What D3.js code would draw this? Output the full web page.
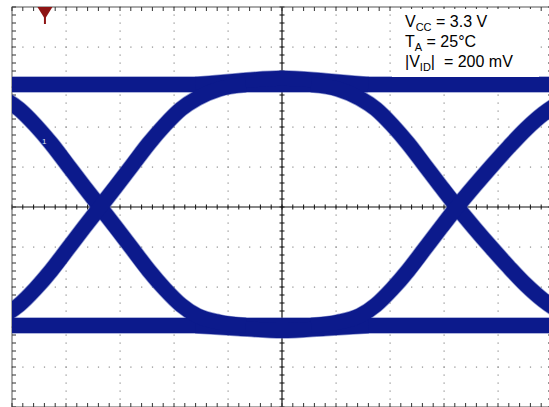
<html>
<head>
<meta charset="utf-8">
<script src="https://cdn.jsdelivr.net/npm/d3@7"></script>
<style>
    body { margin: 0; background: #fff; }
    .note { font: 16px "Liberation Sans", Arial, sans-serif; fill: #000; }
</style>
</head>
<body>
<script>
    var width = 549;
    var height = 407;

    // scope screen: 10 x 10 divisions, time and voltage read in divisions
    var timeDivs = [0, 10];
    var voltDivs = [-5, 5];
    var minorPerDiv = 5;

    // levels and traces (t in div, v in div)
    var highLine = [[-0.5, 3.06], [10.5, 3.06]];
    var lowLine = [[-0.5, -2.96], [10.5, -2.96]];
    var highBump = [[3.4, 3.06], [4.2, 3.15], [5.0, 3.22], [5.8, 3.15], [6.6, 3.06]];
    var lowBump = [[3.4, -2.96], [4.2, -3.03], [5.0, -3.09], [5.8, -3.03], [6.6, -2.96]];

    var fallLeft = [[-1.07, 3.06], [-0.57, 2.95], [-0.17, 2.72], [0.13, 2.45], [0.43, 2.05], [0.73, 1.58], [1.03, 1.05], [1.33, 0.52],
        [1.63, 0], [1.93, -0.52], [2.23, -1.05], [2.53, -1.58], [2.83, -2.05], [3.13, -2.45], [3.43, -2.72], [3.83, -2.88], [4.33, -2.96]];
    var riseLeft = [[-1.07, -2.96], [-0.57, -2.88], [-0.17, -2.72], [0.13, -2.45], [0.43, -2.05], [0.73, -1.58], [1.03, -1.05], [1.33, -0.52],
        [1.63, 0], [1.93, 0.52], [2.23, 1.05], [2.53, 1.58], [2.83, 2.05], [3.13, 2.45], [3.43, 2.72], [3.83, 2.95], [4.33, 3.06]];
    var fallRight = [[5.54, 3.06], [6.04, 2.95], [6.44, 2.72], [6.74, 2.45], [7.04, 2.05], [7.34, 1.58], [7.64, 1.05], [7.94, 0.52],
        [8.24, 0], [8.56, -0.52], [8.88, -1.02], [9.2, -1.5], [9.52, -1.95], [9.84, -2.33], [10.16, -2.62], [10.6, -2.85], [11.1, -2.96]];
    var riseRight = [[5.54, -2.96], [6.04, -2.88], [6.44, -2.72], [6.74, -2.45], [7.04, -2.05], [7.34, -1.58], [7.64, -1.05], [7.94, -0.52],
        [8.24, 0], [8.56, 0.52], [8.88, 1.02], [9.2, 1.5], [9.52, 1.95], [9.84, 2.33], [10.16, 2.62], [10.6, 2.9], [11.1, 3.06]];

    var traces = [highLine, lowLine, highBump, lowBump, fallLeft, riseLeft, fallRight, riseRight];
    var triggerT = 0.61;
    var notes = [
        [{ t: "V" }, { t: "CC", sub: true }, { t: " = 3.3 V" }],
        [{ t: "T" }, { t: "A", sub: true }, { t: " = 25°C" }],
        [{ t: "|V" }, { t: "ID", sub: true }, { t: "|  = 200 mV" }]
    ];

    var x = d3.scaleLinear().domain(timeDivs).range([12, 552]);
    var y = d3.scaleLinear().domain(voltDivs).range([407, 7]);

    var svg = d3.select("body").append("svg")
        .attr("width", width)
        .attr("height", height);

    svg.append("clipPath").attr("id", "screen")
        .append("rect")
        .attr("x", x(0)).attr("y", y(5))
        .attr("width", x(10) - x(0)).attr("height", y(-5) - y(5));

    var grid = svg.append("g");
    var majorT = d3.range(timeDivs[0], timeDivs[1] + 1);
    var majorV = d3.range(voltDivs[0], voltDivs[1] + 1);
    var minorT = d3.range(timeDivs[0] * minorPerDiv, timeDivs[1] * minorPerDiv + 1).map(function (d) { return d / minorPerDiv; });
    var minorV = d3.range(voltDivs[0] * minorPerDiv, voltDivs[1] * minorPerDiv + 1).map(function (d) { return d / minorPerDiv; });

    // dotted graticule
    majorT.filter(function (d) { return d > 0 && d < 10 && d != 5; }).forEach(function (t) {
        grid.selectAll(null).data(minorV).enter().append("rect")
            .attr("x", x(t) - 0.5).attr("y", function (v) { return y(v) - 0.5; })
            .attr("width", 1.2).attr("height", 1.2).attr("fill", "#8c8c8c");
    });
    majorV.filter(function (d) { return d > -5 && d < 5 && d != 0; }).forEach(function (v) {
        grid.selectAll(null).data(minorT).enter().append("rect")
            .attr("x", function (t) { return x(t) - 0.5; }).attr("y", y(v) - 0.5)
            .attr("width", 1.2).attr("height", 1.2).attr("fill", "#8c8c8c");
    });

    // centre axes with ticks
    grid.append("line").attr("x1", x(0)).attr("x2", x(10)).attr("y1", y(0)).attr("y2", y(0))
        .attr("stroke", "#111").attr("stroke-width", 1.2);
    grid.append("line").attr("x1", x(5)).attr("x2", x(5)).attr("y1", y(5)).attr("y2", y(-5))
        .attr("stroke", "#111").attr("stroke-width", 1.2);
    grid.selectAll(null).data(minorT).enter().append("line")
        .attr("x1", function (t) { return x(t); }).attr("x2", function (t) { return x(t); })
        .attr("y1", y(0) - 2.5).attr("y2", y(0) + 2.5).attr("stroke", "#111");
    grid.selectAll(null).data(minorV).enter().append("line")
        .attr("y1", function (v) { return y(v); }).attr("y2", function (v) { return y(v); })
        .attr("x1", x(5) - 2.5).attr("x2", x(5) + 2.5).attr("stroke", "#111");

    // frame and edge ticks
    grid.append("rect")
        .attr("x", x(0)).attr("y", y(5))
        .attr("width", x(10) - x(0)).attr("height", y(-5) - y(5))
        .attr("fill", "none").attr("stroke", "#555");
    grid.selectAll(null).data(minorV).enter().append("line")
        .attr("y1", function (v) { return y(v); }).attr("y2", function (v) { return y(v); })
        .attr("x1", x(0)).attr("x2", x(0) + 4).attr("stroke", "#333");
    grid.selectAll(null).data(minorV).enter().append("line")
        .attr("y1", function (v) { return y(v); }).attr("y2", function (v) { return y(v); })
        .attr("x1", x(10) - 4).attr("x2", x(10)).attr("stroke", "#333");
    grid.selectAll(null).data(minorT).enter().append("line")
        .attr("x1", function (t) { return x(t); }).attr("x2", function (t) { return x(t); })
        .attr("y1", y(5)).attr("y2", y(5) + 4).attr("stroke", "#333");
    grid.selectAll(null).data(minorT).enter().append("line")
        .attr("x1", function (t) { return x(t); }).attr("x2", function (t) { return x(t); })
        .attr("y1", y(-5) - 4).attr("y2", y(-5)).attr("stroke", "#333");

    // eye traces
    var line = d3.line()
        .x(function (d) { return x(d[0]); })
        .y(function (d) { return y(d[1]); })
        .curve(d3.curveMonotoneX);

    var eye = svg.append("g").attr("clip-path", "url(#screen)");
    eye.selectAll(".halo").data(traces).enter().append("path")
        .attr("d", line)
        .attr("fill", "none")
        .attr("stroke", "#4a58b0")
        .attr("stroke-opacity", 0.6)
        .attr("stroke-width", 16.5);
    eye.selectAll(".trace").data(traces).enter().append("path")
        .attr("d", line)
        .attr("fill", "none")
        .attr("stroke", "#0c1a8c")
        .attr("stroke-width", 15);

    // channel marker hidden in the trace
    svg.append("text")
        .attr("x", 42).attr("y", 144)
        .attr("font-family", "Liberation Sans, Arial, sans-serif")
        .attr("font-size", 8).attr("fill", "#dfe3f2")
        .text("1");

    // trigger marker
    var tx = x(triggerT);
    svg.append("path")
        .attr("d", "M" + (tx - 7.5) + "," + y(5) + "L" + (tx + 7.5) + "," + y(5) + "L" + tx + "," + (y(5) + 12) + "Z")
        .attr("fill", "#8e1414");
    svg.append("line")
        .attr("x1", tx).attr("x2", tx).attr("y1", y(5) + 8).attr("y2", y(5) + 17)
        .attr("stroke", "#8e1414").attr("stroke-width", 2);

    // conditions box
    svg.append("rect")
        .attr("x", 392).attr("y", 9)
        .attr("width", 147).attr("height", 68)
        .attr("fill", "#fff");

    var txt = svg.append("g");
    notes.forEach(function (parts, i) {
        var t = txt.append("text").attr("class", "note")
            .attr("x", 405).attr("y", 27 + i * 20)
            .attr("xml:space", "preserve");
        parts.forEach(function (p) {
            t.append("tspan")
                .attr("font-size", p.sub ? 11 : 16)
                .attr("dy", p.sub ? 4 : (parts.indexOf(p) > 0 ? -4 : 0))
                .text(p.t);
        });
    });
</script>
</body>
</html>
